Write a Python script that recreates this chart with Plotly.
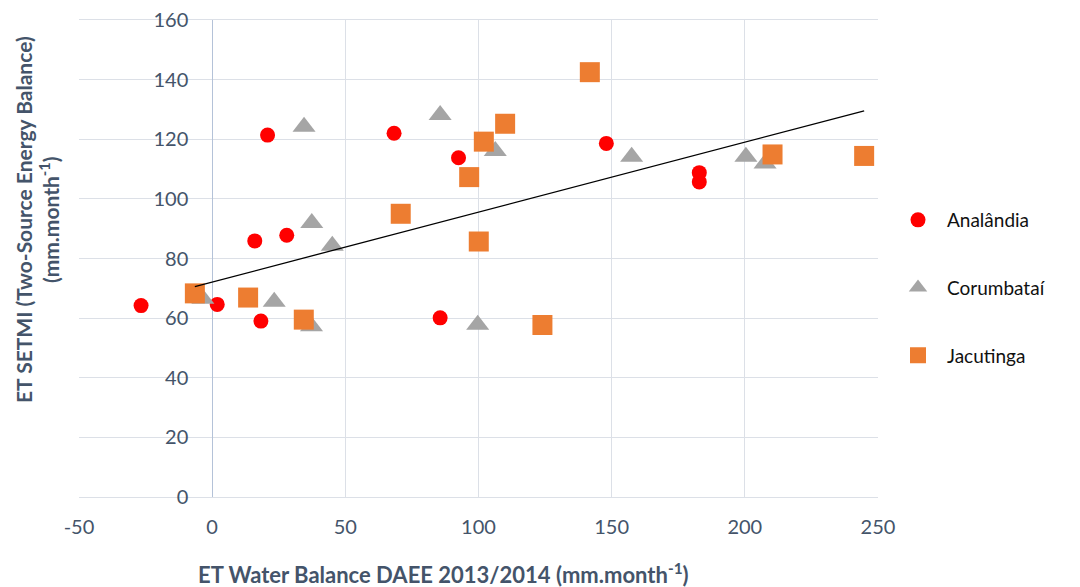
import numpy as np
import plotly.graph_objects as go

# Analândia
ana_x = [-26.7, 1.9, 18.3, 16.0, 28.0, 20.8, 68.3, 85.6, 92.5, 148.0, 182.9, 182.9]
ana_y = [64.2, 64.6, 59.0, 85.9, 87.8, 121.4, 122.0, 60.1, 113.8, 118.6, 108.8, 105.7]
# Corumbataí
cor_x = [-3.5, 23.3, 37.3, 37.4, 45.1, 34.5, 85.6, 99.7, 106.3, 157.5, 200.4, 207.6]
cor_y = [66.5, 65.5, 57.3, 91.9, 84.3, 124.2, 128.1, 57.8, 116.1, 114.1, 114.1, 111.9]
# Jacutinga
jac_x = [-6.5, 13.5, 34.4, 70.8, 96.5, 100.1, 102.0, 110.0, 124.0, 141.8, 210.4, 244.8]
jac_y = [68.3, 66.9, 59.5, 95.0, 107.3, 85.7, 119.2, 125.2, 57.7, 142.5, 114.9, 114.4]

x_ticks = [-50, 0, 50, 100, 150, 200, 250]
x_labels = ["-50", "0", "50", "100", "150", "200", "250"]
y_ticks = [0, 20, 40, 60, 80, 100, 120, 140, 160]

FONT = "Lato"
TICK_COLOR = "#44546A"
GRID = "#DCE0E7"

# linear trendline of Jacutinga series
slope, intercept = np.polyfit(jac_x, jac_y, 1)
tx = np.array([min(jac_x), max(jac_x)])
ty = slope * tx + intercept

fig = go.Figure()
fig.add_trace(go.Scatter(x=ana_x, y=ana_y, mode="markers", name="Analândia",
                         legendgroup="a",
                         marker=dict(symbol="circle", size=15, color="#FF0000",
                                     line=dict(width=0))))
fig.add_trace(go.Scatter(x=cor_x, y=cor_y, mode="markers", name="Corumbataí",
                         legendgroup="b",
                         marker=dict(symbol="triangle-up", size=20, color="#A5A5A5",
                                     line=dict(width=0))))
fig.add_trace(go.Scatter(x=jac_x, y=jac_y, mode="markers", name="Jacutinga",
                         legendgroup="c",
                         marker=dict(symbol="square", size=20, color="#ED7D31",
                                     line=dict(width=0))))
fig.add_trace(go.Scatter(x=tx, y=ty, mode="lines", showlegend=False,
                         line=dict(color="black", width=1.3), hoverinfo="skip"))

# page offset from default body margin
OFF = 8
PL, PR, PT, PB = 79, 878, 20, 497  # plot area in page pixels
W, H = 1080 - OFF, 587 - OFF
L, T = PL - OFF, PT - OFF
R = 1080 - PR
B = 587 - PB
pw = PR - PL
ph = PB - PT


def px_x(p):
    return (p - PL) / pw


def px_y(p):
    return (PB - p) / ph


fig.update_layout(
    width=W, height=H,
    margin=dict(l=L, r=R, t=T, b=B, autoexpand=False),
    plot_bgcolor="white", paper_bgcolor="white",
    font=dict(family=FONT, size=20, color=TICK_COLOR),
    showlegend=True,
    legend=dict(x=px_x(889), y=px_y(288), xanchor="left", yanchor="middle",
                font=dict(family=FONT, size=19, color="#111111"),
                tracegroupgap=40, itemwidth=48, bgcolor="rgba(0,0,0,0)"),
    xaxis=dict(range=[-50, 250], tickvals=x_ticks, ticktext=x_labels,
               showgrid=True, gridcolor=GRID,
               gridwidth=1.3, zeroline=True, zerolinecolor="#B4C2D8", zerolinewidth=1,
               showline=True, mirror=True, linecolor=GRID, linewidth=1.3,
               ticks="", ticklabelstandoff=12, automargin=False,
               ticklabeloverflow="allow",
               tickfont=dict(family=FONT, size=20, color=TICK_COLOR)),
    yaxis=dict(range=[0, 160], tickvals=y_ticks, showgrid=True, gridcolor=GRID,
               gridwidth=1.3, zeroline=True, zerolinecolor=GRID, zerolinewidth=1.3,
               anchor="free", position=px_x(212.3), showline=False,
               ticks="", ticklabelstandoff=24, automargin=False,
               ticklabeloverflow="allow",
               tickfont=dict(family=FONT, size=20, color=TICK_COLOR)),
    annotations=[
        dict(text="<b>ET Water Balance DAEE 2013/2014 (mm.month<sup>-1</sup>)</b>",
             xref="paper", yref="paper", x=px_x(443), y=px_y(573),
             xanchor="center", yanchor="middle", showarrow=False,
             font=dict(family=FONT, size=22, color=TICK_COLOR)),
        dict(text="<b>ET SETMI (Two-Source Energy Balance)<br>(mm.month<sup>-1</sup>)</b>",
             xref="paper", yref="paper", x=px_x(37), y=px_y(220),
             xanchor="center", yanchor="middle", textangle=-90, showarrow=False,
             borderpad=0,
             font=dict(family=FONT, size=21, color=TICK_COLOR)),
    ],
)

fig.write_html("out.html")
